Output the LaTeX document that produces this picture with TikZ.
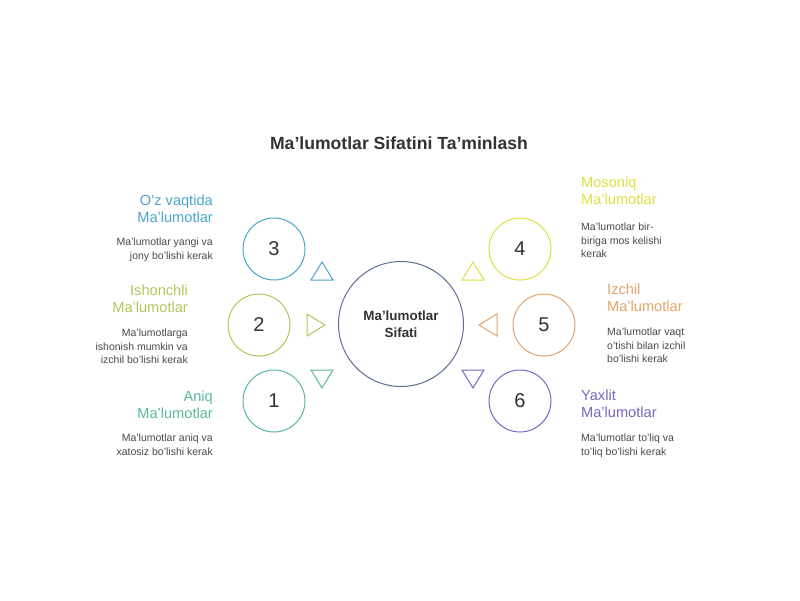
\documentclass[tikz,border=0pt]{standalone}
\usepackage{fontspec}
\setmainfont{Liberation Sans}
\usetikzlibrary{calc}
\definecolor{cthree}{HTML}{4BA6CC}
\definecolor{ctwo}{HTML}{B5C45A}
\definecolor{cone}{HTML}{5BB8A0}
\definecolor{cfour}{HTML}{DDE040}
\definecolor{cfive}{HTML}{E2A56A}
\definecolor{csix}{HTML}{7A66C4}
\definecolor{ccenter}{HTML}{5E6C98}
\definecolor{tdark}{HTML}{333333}
\definecolor{tdesc}{HTML}{4A4A4A}
\tikzset{
  smallc/.style={circle, draw, line width=1pt, minimum size=62pt, inner sep=0pt, font=\fontsize{20}{20}\selectfont, text=tdark},
  bigc/.style={circle, draw=ccenter, line width=1pt, minimum size=125pt, inner sep=0pt, align=center, font=\fontsize{13.4}{17}\selectfont\bfseries, text=tdark},
  ttl/.style={font=\fontsize{14.6}{17}\selectfont, inner sep=0pt},
  desc/.style={font=\fontsize{10.5}{13.5}\selectfont, text=tdesc, inner sep=0pt},
  tri/.style={line width=1pt, line join=miter}
}
\begin{document}
\begin{tikzpicture}[x=1pt,y=-1pt]
\useasboundingbox[fill=white] (0,0) rectangle (800,600);
\node[font=\fontsize{17.6}{17.6}\selectfont\bfseries, text=tdark] (title) at (399,143) {Ma'lumotlar Sifatini Ta'minlash};
\node[bigc] (center) at (401,324) {Ma'lumotlar\\Sifati};
% circles
\node[smallc, draw=cthree] (n3) at (274,249) {3};
\node[smallc, draw=ctwo] (n2) at (259,325) {2};
\node[smallc, draw=cone] (n1) at (274,401) {1};
\node[smallc, draw=cfour] (n4) at (520,249) {4};
\node[smallc, draw=cfive] (n5) at (544,325) {5};
\node[smallc, draw=csix] (n6) at (520,401) {6};
% triangles
\draw[tri, cthree] (322,262) -- (333,280) -- (311,280) -- cycle;
\draw[tri, ctwo] (325,325) -- (307,314) -- (307,336) -- cycle;
\draw[tri, cone] (322,388) -- (333,370) -- (311,370) -- cycle;
\draw[tri, cfour] (473,262) -- (484,280) -- (462,280) -- cycle;
\draw[tri, cfive] (479,325) -- (497,314) -- (497,336) -- cycle;
\draw[tri, csix] (473,388) -- (484,370) -- (462,370) -- cycle;
% left labels
\node[ttl, text=cthree, anchor=north east, align=right] (t3) at (213,195) {O'z vaqtida\\Ma'lumotlar};
\node[desc, anchor=north east, align=right] (d3) at (213,238) {Ma'lumotlar yangi va\\jony bo'lishi kerak};
\node[ttl, text=ctwo, anchor=north east, align=right] (t2) at (188,285) {Ishonchli\\Ma'lumotlar};
\node[desc, anchor=north east, align=right] (d2) at (188,329) {Ma'lumotlarga\\ishonish mumkin va\\izchil bo'lishi kerak};
\node[ttl, text=cone, anchor=north east, align=right] (t1) at (213,391) {Aniq\\Ma'lumotlar};
\node[desc, anchor=north east, align=right] (d1) at (213,434) {Ma'lumotlar aniq va\\xatosiz bo'lishi kerak};
% right labels
\node[ttl, text=cfour, anchor=north west, align=left] (t4) at (581,177) {Mosoniq\\Ma'lumotlar};
\node[desc, anchor=north west, align=left] (d4) at (581,223) {Ma'lumotlar bir-\\biriga mos kelishi\\kerak};
\node[ttl, text=cfive, anchor=north west, align=left] (t5) at (607,284) {Izchil\\Ma'lumotlar};
\node[desc, anchor=north west, align=left] (d5) at (607,328) {Ma'lumotlar vaqt\\o'tishi bilan izchil\\bo'lishi kerak};
\node[ttl, text=csix, anchor=north west, align=left] (t6) at (581,390) {Yaxlit\\Ma'lumotlar};
\node[desc, anchor=north west, align=left] (d6) at (581,434) {Ma'lumotlar to'liq va\\to'liq bo'lishi kerak};
\end{tikzpicture}
\end{document}
